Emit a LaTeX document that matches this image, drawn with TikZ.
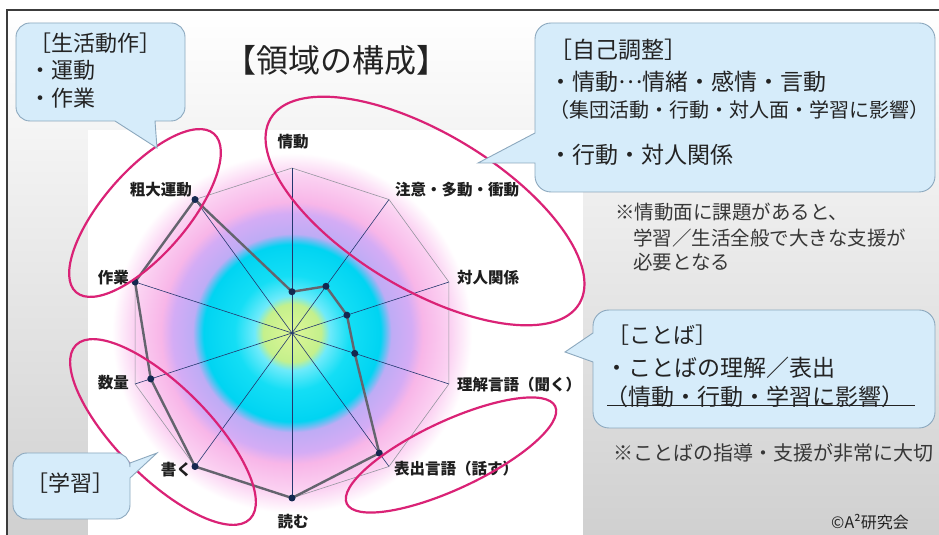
\documentclass[tikz,border=0pt]{standalone}
\usepackage{fontspec}
\setmainfont{Noto Sans CJK JP}

\definecolor{bgGray}{RGB}{208,208,208}
\definecolor{frameInk}{RGB}{60,60,60}
\definecolor{calloutBlue}{RGB}{214,236,250}
\definecolor{calloutEdge}{RGB}{140,168,190}
\definecolor{ringPink}{RGB}{218,34,118}
\definecolor{boxInk}{RGB}{35,35,35}
\definecolor{noteInk}{RGB}{55,55,55}
\definecolor{labelInk}{RGB}{30,30,30}
\definecolor{gridGray}{RGB}{150,150,160}
\definecolor{axisNavy}{RGB}{35,55,110}
\definecolor{dataGray}{RGB}{100,100,110}
\definecolor{dotNavy}{RGB}{20,40,80}
% radar glow colours
\definecolor{glowGreenIn}{RGB}{222,246,150}
\definecolor{glowGreen}{RGB}{196,240,140}
\definecolor{glowCyanIn}{RGB}{110,234,250}
\definecolor{glowCyan}{RGB}{20,222,245}
\definecolor{glowCyanOut}{RGB}{0,212,242}
\definecolor{glowPurple}{RGB}{190,172,245}
\definecolor{glowLilac}{RGB}{212,172,245}
\definecolor{glowPink}{RGB}{248,182,232}
\definecolor{glowPinkOut}{RGB}{251,210,242}

\pgfdeclareradialshading{radarglow}{\pgfpoint{0bp}{0bp}}{%
  color(0bp)=(glowGreenIn); color(4bp)=(glowGreen); color(5.2bp)=(glowCyanIn);
  color(8bp)=(glowCyan); color(12.3bp)=(glowCyanOut); color(13.8bp)=(glowPurple);
  color(16.6bp)=(glowLilac); color(18.2bp)=(glowPink); color(22bp)=(glowPinkOut);
  color(25bp)=(white); color(50bp)=(white)}

\begin{document}
\begin{tikzpicture}[x=1pt,y=1pt,
    callout/.style={fill=calloutBlue,draw=calloutEdge,line width=0.9pt},
    ringmark/.style={draw=ringPink,line width=2.2pt},
    axislabel/.style={font=\bfseries\fontsize{15.5}{15.5}\selectfont,text=labelInk,inner sep=0pt},
    boxtext/.style={anchor=west,inner sep=0pt,text=boxInk},
    notetext/.style={anchor=west,inner sep=0pt,text=noteInk,font=\fontsize{19.5}{19.5}\selectfont},
    datadot/.style={circle,fill=dotNavy,inner sep=0pt,minimum size=7pt}]
\useasboundingbox (0,0) rectangle (939,535);

% background and frame
\shade[top color=white,bottom color=bgGray] (7,0) rectangle (939,525);
\fill[white] (88,0) rectangle (583,405);
\draw[frameInk,line width=1.6pt] (7,0) -- (7,525) -- (939,525);

% radar chart
\coordinate (ctr) at (292,202);
\shade[shading=radarglow] (ctr) circle[radius=180];
\foreach \i/\val in {0/0.25,1/0.35,2/0.35,3/0.4,4/0.9,5/1,6/1,7/0.9,8/1,9/1}{
  \path (ctr) ++({90-36*\i}:165) coordinate (v\i);
  \path (ctr) ++({90-36*\i}:{165*\val}) coordinate (d\i);
}
\draw[gridGray,line width=0.6pt] (v0) \foreach \i in {1,...,9}{ -- (v\i)} -- cycle;
\foreach \i in {0,...,9} \draw[axisNavy,line width=0.6pt] (ctr) -- (v\i);
\draw[dataGray,line width=2.4pt,line join=round] (d0) \foreach \i in {1,...,9}{ -- (d\i)} -- cycle;
\foreach \i in {0,...,9} \node[datadot] (dot\i) at (d\i) {};

% axis labels
\node[axislabel] (lab0) at (293,393) {情動};
\node[axislabel,anchor=west] (lab1) at (395,345) {注意・多動・衝動};
\node[axislabel,anchor=west] (lab2) at (457,257) {対人関係};
\node[axislabel,anchor=west] (lab3) at (457,150) {理解言語（聞く）};
\node[axislabel,anchor=west] (lab4) at (394,66) {表出言語（話す）};
\node[axislabel] (lab5) at (293,13) {読む};
\node[axislabel,anchor=east] (lab6) at (192,65) {書く};
\node[axislabel,anchor=east] (lab7) at (129,152) {数量};
\node[axislabel,anchor=east] (lab8) at (129,257) {作業};
\node[axislabel,anchor=east] (lab9) at (192,345) {粗大運動};

% rings round the groups
\draw[ringmark,rotate around={49:(145,322)}] (145,322) ellipse[x radius=105,y radius=42];
\draw[ringmark,rotate around={-31:(425,324)}] (425,324) ellipse[x radius=180,y radius=78];
\draw[ringmark,rotate around={-45:(163,103)}] (163,103) ellipse[x radius=123,y radius=46];
\draw[ringmark,rotate around={25:(451,80)}] (451,80) ellipse[x radius=115,y radius=34];

% title
\node[font=\fontsize{32}{32}\selectfont,text=boxInk] (title) at (336,475) {【領域の構成】};

% callout: daily movement
\filldraw[callout] (30,414) -- (115,414) -- (157,387) -- (155,414) -- (171,414)
  arc[start angle=-90,end angle=0,radius=14] -- (185,498)
  arc[start angle=0,end angle=90,radius=14] -- (30,512)
  arc[start angle=90,end angle=180,radius=14] -- (16,428)
  arc[start angle=180,end angle=270,radius=14] -- cycle;
\begin{scope}[every node/.style={boxtext,font=\fontsize{22}{22}\selectfont}]
  \node (lifeHead) at (29,492) {［生活動作］};
  \node (lifeA) at (29,465) {・運動};
  \node (lifeB) at (29,437) {・作業};
\end{scope}

% callout: self regulation
\filldraw[callout] (551,343) -- (919,343)
  arc[start angle=-90,end angle=0,radius=16] -- (935,496)
  arc[start angle=0,end angle=90,radius=16] -- (551,512)
  arc[start angle=90,end angle=180,radius=16] -- (535,402) -- (478,372) -- (535,372) -- (535,359)
  arc[start angle=180,end angle=270,radius=16] -- cycle;
\begin{scope}[every node/.style={boxtext,font=\fontsize{23}{23}\selectfont}]
  \node (selfHead) at (549,485) {［自己調整］};
  \node (selfA) at (549,453) {・情動\raisebox{0.3em}{…}情緒・感情・言動};
  \node[font=\fontsize{20}{20}\selectfont] (selfB) at (549,425) {（集団活動・行動・対人面・学習に影響）};
  \node (selfC) at (549,380) {・行動・対人関係};
\end{scope}

% callout: language
\filldraw[callout] (609,107) -- (919,107)
  arc[start angle=-90,end angle=0,radius=16] -- (935,209)
  arc[start angle=0,end angle=90,radius=16] -- (609,225)
  arc[start angle=90,end angle=180,radius=16] -- (593,202) -- (565,183) -- (593,173) -- (593,123)
  arc[start angle=180,end angle=270,radius=16] -- cycle;
\begin{scope}[every node/.style={boxtext,font=\fontsize{23}{23}\selectfont}]
  \node[font=\fontsize{22}{22}\selectfont] (langHead) at (607,200) {［ことば］};
  \node (langA) at (605,167) {・ことばの理解／表出};
  \node (langB) at (605,138) {（情動・行動・学習に影響）};
\end{scope}
\coordinate (ulA) at (607,129);
\coordinate (ulB) at (915,129);
\draw[boxInk,line width=1pt] (ulA) -- (ulB);

% callout: learning
\filldraw[callout] (27,16) -- (116,16)
  arc[start angle=-90,end angle=0,radius=14] -- (130,57) -- (157,82) -- (130,72) -- (130,68)
  arc[start angle=0,end angle=90,radius=14] -- (27,82)
  arc[start angle=90,end angle=180,radius=14] -- (13,30)
  arc[start angle=180,end angle=270,radius=14] -- cycle;
\node[inner sep=0pt,text=boxInk,font=\fontsize{22}{22}\selectfont] (learnHead) at (70,52) {［学習］};

% notes
\node[notetext] (noteA) at (615,323) {※情動面に課題があると、};
\node[notetext] (noteB) at (633,297) {学習／生活全般で大きな支援が};
\node[notetext] (noteC) at (633,273) {必要となる};
\node[notetext,font=\fontsize{20}{20}\selectfont] (noteD) at (613,82) {※ことばの指導・支援が非常に大切};
\node[inner sep=0pt,text=boxInk,font=\fontsize{16}{16}\selectfont] (credit) at (870,13) {©A²研究会};
\end{tikzpicture}
\end{document}
